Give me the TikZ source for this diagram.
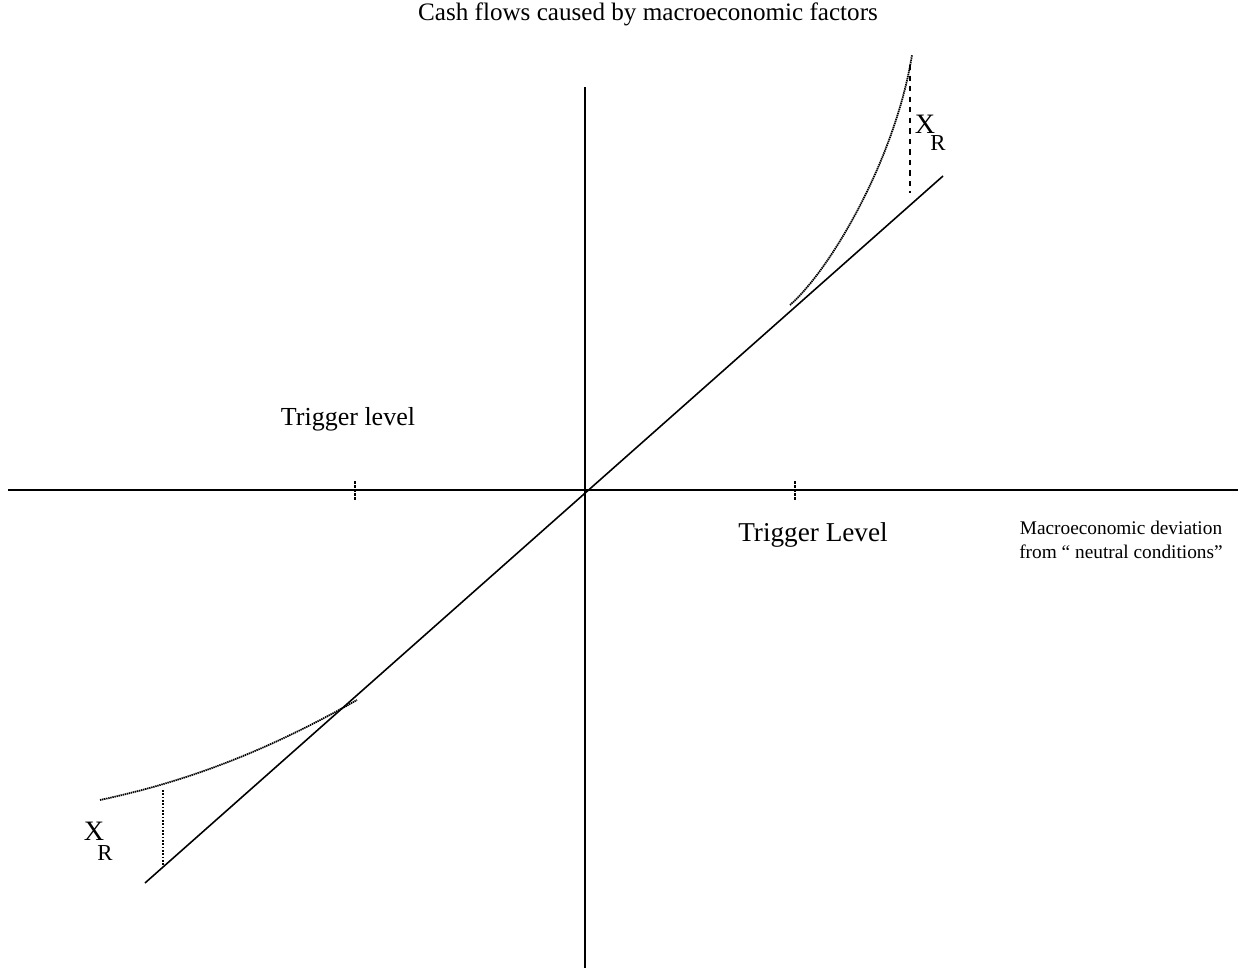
\documentclass[tikz,border=0pt]{standalone}
\usepackage{fontspec}
\setmainfont{Liberation Serif}
\usetikzlibrary{positioning}

\begin{document}
\begin{tikzpicture}[
  x=0.02cm, y=-0.02cm,
  axis line/.style = {line width=0.9pt},
  payoff curve/.style = {line width=1pt, dash pattern=on 0.8pt off 0.4pt},
  gap line/.style = {line width=0.9pt},
  tick mark/.style = {line width=1pt, dash pattern=on 1.5pt off 0.8pt},
  label text/.style = {inner sep=0pt, font=\fontsize{14.3}{16}\selectfont}
]
  \useasboundingbox (0,0) rectangle (1254,969);

  % axes
  \coordinate (xl) at (8,490);
  \coordinate (xr) at (1238,490);
  \coordinate (yt) at (585,87);
  \coordinate (yb) at (585,968);
  \draw[axis line] (xl) -- (xr);
  \draw[axis line] (yt) -- (yb);

  % trigger ticks
  \coordinate (tl1) at (355,481);
  \coordinate (tl2) at (355,500);
  \coordinate (tr1) at (795,481);
  \coordinate (tr2) at (795,500);
  \draw[tick mark] (tl1) -- (tl2);
  \draw[tick mark] (tr1) -- (tr2);

  % diagonal
  \coordinate (dlow) at (145,883);
  \coordinate (dhigh) at (943,176);
  \draw[axis line] (dlow) -- (dhigh);

  % upper curve
  \coordinate (ustart) at (790,305);
  \coordinate (uend) at (912,55);
  \draw[payoff curve] (ustart) .. controls (830,270) and (895,160) .. (uend);
  \coordinate (ugap1) at (910,65);
  \coordinate (ugap2) at (910,193);
  \draw[gap line, dashed] (ugap1) -- (ugap2);

  % lower curve
  \coordinate (lstart) at (100,800);
  \coordinate (lend) at (357,700);
  \draw[payoff curve] (lstart) .. controls (180,783) and (260,755) .. (lend);
  \coordinate (lgap1) at (163,790);
  \coordinate (lgap2) at (163,866);
  \draw[gap line, densely dotted] (lgap1) -- (lgap2);

  % labels
  \node[label text] (title) at (648,14) {Cash flows caused by macroeconomic factors};
  \node[label text, font=\fontsize{14.8}{17}\selectfont] (trigleft) at (348,419) {Trigger level};
  \node[label text, font=\fontsize{15.5}{18}\selectfont] (trigright) at (813,535) {Trigger Level};
  \node[label text, font=\fontsize{11}{14}\selectfont, align=center] (xaxis) at (1121,540)
    {Macroeconomic deviation\\from `` neutral conditions''};
  \node[label text, font=\fontsize{16}{18}\selectfont] (xrtop) at (925,124) {X};
  \node[label text, font=\fontsize{13}{15}\selectfont] (xrtopsub) at (938,143) {R};
  \node[label text, font=\fontsize{16}{18}\selectfont] (xrlow) at (94,831) {X};
  \node[label text, font=\fontsize{13}{15}\selectfont] (xrlowsub) at (105,853) {R};
\end{tikzpicture}
\end{document}
